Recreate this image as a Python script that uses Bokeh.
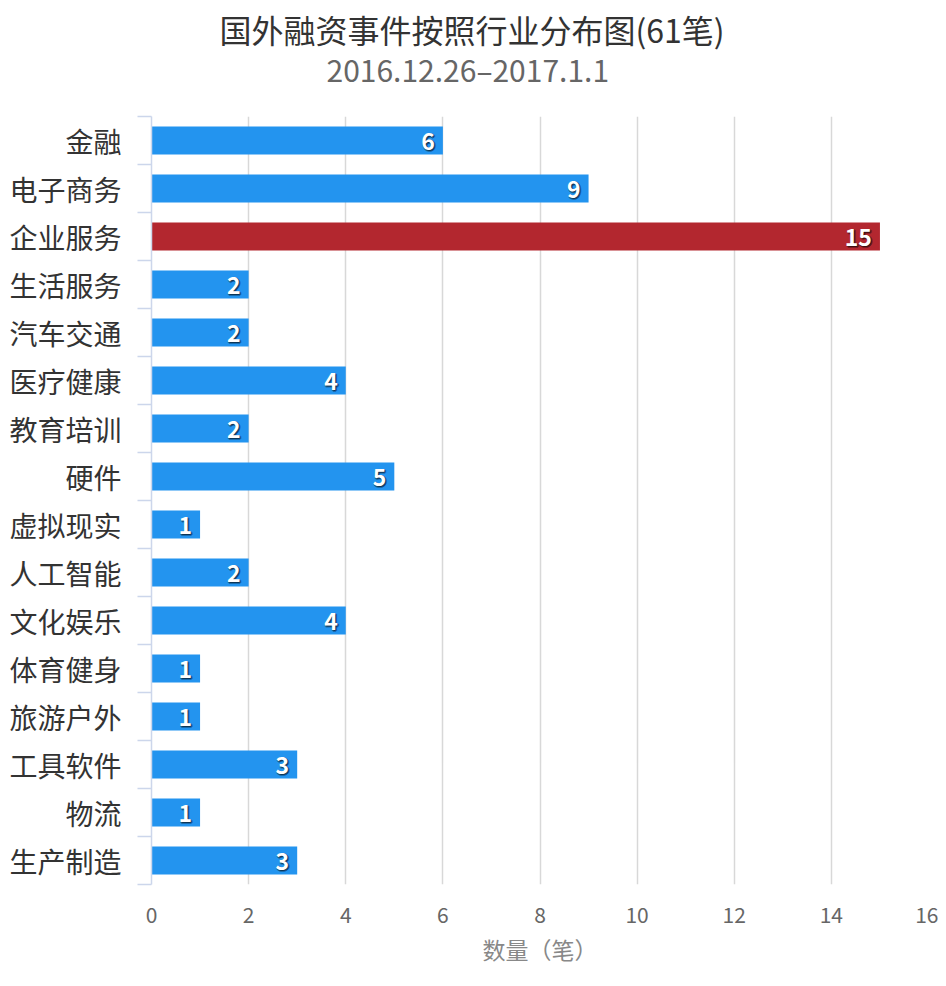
from bokeh.plotting import figure
from bokeh.models import Range1d, FixedTicker, ColumnDataSource, Title
from bokeh.core.properties import value
from bokeh.embed import file_html
from bokeh.resources import INLINE

categories = ["金融", "电子商务", "企业服务", "生活服务", "汽车交通", "医疗健康", "教育培训", "硬件",
              "虚拟现实", "人工智能", "文化娱乐", "体育健身", "旅游户外", "工具软件", "物流", "生产制造"]
counts = [6, 9, 15, 2, 2, 4, 2, 5, 1, 2, 4, 1, 1, 3, 1, 3]
x_ticks = [0, 2, 4, 6, 8, 10, 12, 14, 16]
title_text = "国外融资事件按照行业分布图(61笔)"
subtitle_text = "2016.12.26–2017.1.1"
x_title = "数量（笔）"

FONT = "Noto Sans CJK SC"
BLUE = "#2394ef"
RED = "#b3272f"

n = len(categories)
ypos = [i + 0.5 for i in range(n)]
max_v = max(counts)
colors = [RED if v == max_v else BLUE for v in counts]
src = ColumnDataSource(dict(y=ypos, v=counts, c=colors, t=[str(v) for v in counts]))

p = figure(width=938, height=978, output_backend="svg", toolbar_location=None,
           x_range=Range1d(0, 16), y_range=Range1d(n, 0), title=None,
           min_border_left=151, min_border_right=10, min_border_top=116, min_border_bottom=94)
p.outline_line_color = None
p.background_fill_color = "white"
p.border_fill_color = "white"

p.hbar(y="y", left=0, right="v", height=28 / 48, color="c", line_color=None, source=src)

# labels with shadow
for dx, dy in [(-6, 2), (-8, 2), (-7, 3), (-7, 1)]:
    p.text(x="v", y="y", text="t", source=src, x_offset=dx, y_offset=dy,
           text_align="right", text_baseline="middle", text_color="black", text_alpha=0.3,
           text_font=value(FONT), text_font_size="23px", text_font_style="bold")
p.text(x="v", y="y", text="t", source=src, x_offset=-8, y_offset=1,
       text_align="right", text_baseline="middle", text_color="white",
       text_font=value(FONT), text_font_size="23px", text_font_style="bold")

# y axis
yax = p.yaxis[0]
yax.ticker = FixedTicker(ticks=ypos, minor_ticks=list(range(n + 1)))
yax.major_label_overrides = {float(y): c for y, c in zip(ypos, categories)}
yax.major_tick_out = 0
yax.major_tick_in = 0
yax.minor_tick_out = 14
yax.minor_tick_in = 0
yax.minor_tick_line_color = "#ccd6eb"
yax.minor_tick_line_width = 1.5
yax.axis_line_color = "#ccd6eb"
yax.axis_line_width = 1.5
yax.major_label_standoff = 16
yax.major_label_text_font = FONT
yax.major_label_text_font_size = "28px"
yax.major_label_text_color = "#333333"

# x axis
xax = p.xaxis[0]
xax.ticker = FixedTicker(ticks=x_ticks, minor_ticks=[])
xax.axis_line_color = None
xax.major_tick_line_color = None
xax.minor_tick_line_color = None
xax.major_label_standoff = 16
xax.major_label_text_font = FONT
xax.major_label_text_font_size = "21px"
xax.major_label_text_color = "#666666"
xax.axis_label = x_title
xax.axis_label_text_font = FONT
xax.axis_label_text_font_size = "23px"
xax.axis_label_text_font_style = "normal"
xax.axis_label_text_color = "#888888"
xax.axis_label_standoff = 6

p.xgrid.grid_line_color = "#d8d8d8"
p.xgrid.grid_line_width = 1.5
p.ygrid.grid_line_color = None

# spacer between subtitle and plot area
p.add_layout(Title(text=" ", text_font=FONT, text_font_size="10px", standoff=9), "above")
p.add_layout(Title(text=subtitle_text, align="left", offset=175, text_font=FONT,
                   text_font_size="30px", text_font_style="normal", text_color="#666666",
                   standoff=0), "above")
p.add_layout(Title(text=title_text, align="left", offset=68, text_font=FONT,
                   text_font_size="32px", text_font_style="normal", text_color="#333333",
                   standoff=-15), "above")

open("out.html", "w").write(file_html(p, INLINE))
